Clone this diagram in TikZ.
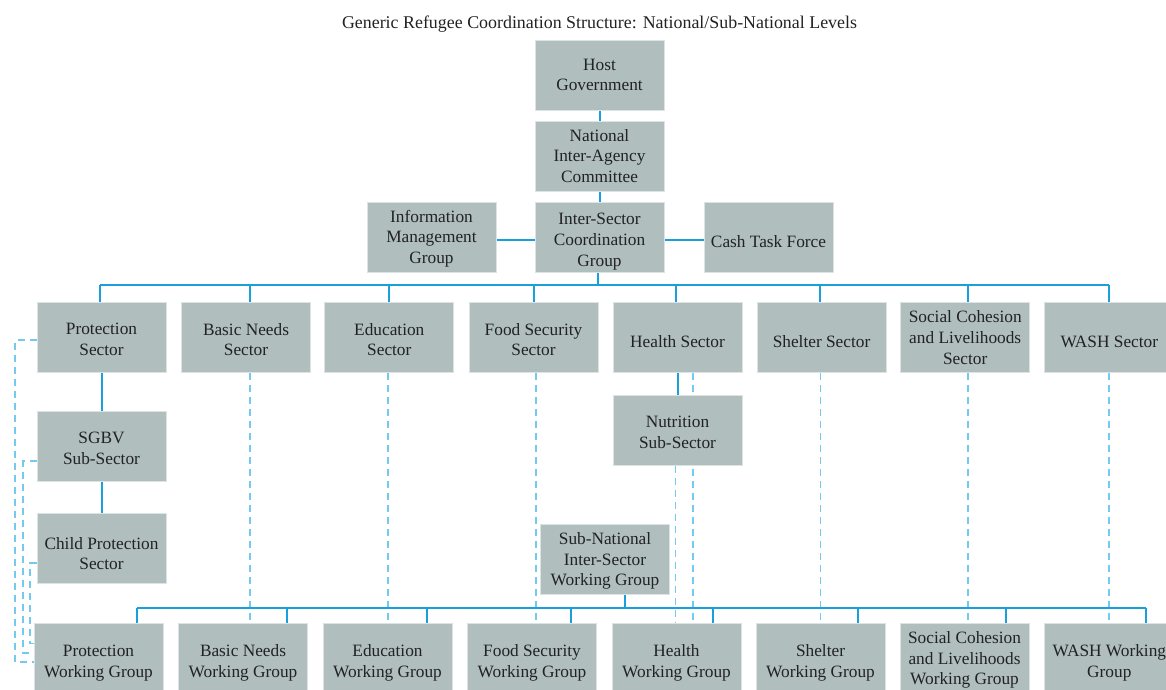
\documentclass[tikz,border=0pt]{standalone}
\usepackage{fontspec}
\setmainfont{Liberation Serif}
\usetikzlibrary{backgrounds}
\definecolor{boxfill}{HTML}{B0BEBE}
\definecolor{boxedge}{HTML}{DCE3E3}
\definecolor{solidblue}{HTML}{1A9FDE}
\definecolor{dashblue}{HTML}{74C9EE}
\definecolor{txt}{HTML}{222222}
% box node (empty) plus its text node, the text shifted down by #4 pt
\newcommand{\bnode}[5][box]{%
  \node[#1] (#2) at (#3) {};
  \node[btxt] (#2t) at ([yshift=-#4pt]#2.center) {#5};}
\begin{document}
\begin{tikzpicture}[x=1pt,y=-1pt,
  box/.style={fill=boxfill,draw=boxedge,line width=1pt,minimum width=129pt,minimum height=70pt,inner sep=0pt},
  wg/.style={box,minimum height=72pt},
  btxt/.style={inner sep=0pt,align=center,text=txt,font=\fontsize{17.3pt}{20.7pt}\selectfont},
  link/.style={draw=solidblue,line width=2pt},
  dlink/.style={draw=dashblue,line width=1.6pt,dash pattern=on 7pt off 5pt}]
\useasboundingbox (0,0) rectangle (1166,689);
\clip (0,0) rectangle (1166,689);

\node[anchor=base,text=txt,font=\fontsize{17.9pt}{21pt}\selectfont] (title) at (599.5,28.3)
  {Generic Refugee Coordination Structure: National/Sub-National Levels};

\bnode{host}{599.5,75}{0}{Host\\Government}
\bnode{niac}{599.5,156}{0}{National\\Inter-Agency\\Committee}
\bnode{iscg}{599.5,237}{4.5}{Inter-Sector\\Coordination\\Group}
\bnode{img}{431.5,237}{1.5}{Information\\Management\\Group}
\bnode{ctf}{768.5,237}{4.3}{Cash Task Force}

\bnode{s1}{101.5,337}{2.5}{Protection\\Sector}
\bnode{s2}{246,337}{2.5}{Basic Needs\\Sector}
\bnode{s3}{389.3,337}{2.5}{Education\\Sector}
\bnode{s4}{533.5,337}{2.5}{Food Security\\Sector}
\bnode{s5}{677.5,337}{4.5}{Health Sector}
\bnode{s6}{821.5,337}{4.5}{Shelter Sector}
\bnode{s7}{965.2,337}{0.5}{Social Cohesion\\and Livelihoods\\Sector}
\bnode{s8}{1109.3,337}{4.5}{WASH Sector}

\bnode{sgbv}{101.5,446}{2}{SGBV\\Sub-Sector}
\bnode{cps}{101.5,548}{5.5}{Child Protection\\Sector}
\bnode{nut}{677.5,430.5}{1.7}{Nutrition\\Sub-Sector}
\bnode{snis}{605,559.5}{1.5}{Sub-National\\Inter-Sector\\Working Group}

\bnode[wg]{w1}{98.5,659}{4}{Protection\\Working Group}
\bnode[wg]{w2}{243,659}{4}{Basic Needs\\Working Group}
\bnode[wg]{w3}{387.5,659}{4}{Education\\Working Group}
\bnode[wg]{w4}{532,659}{4}{Food Security\\Working Group}
\bnode[wg]{w5}{676.5,659}{4}{Health\\Working Group}
\bnode[wg]{w6}{820.5,659}{4}{Shelter\\Working Group}
\bnode[wg]{w7}{964.5,659}{1}{Social Cohesion\\and Livelihoods\\Working Group}
\bnode[wg]{w8}{1109.3,659}{4}{WASH Working\\Group}

\coordinate (tbL) at (100,285.3);
\coordinate (tbR) at (1108.7,285.3);
\coordinate (bbL) at (137.2,608.3);
\coordinate (bbR) at (1146,608.3);
\coordinate (l1) at (15,662);
\coordinate (l2) at (23,653);
\coordinate (l3) at (30,643.3);

\begin{scope}[on background layer]
% top hierarchy
\draw[link] (host) -- (niac);
\draw[link] (niac) -- (iscg);
\draw[link] ([yshift=-3pt]img.east) -- ([yshift=-3pt]iscg.west);
\draw[link] ([yshift=-3pt]iscg.east) -- ([yshift=-3pt]ctf.west);
\draw[link] ([xshift=-2pt]iscg.south) -- ([xshift=-2pt]iscg.south |- tbL);
\draw[link] (tbL) -- (tbR);
\foreach \n/\dx in {s1/-1.5,s2/4,s3/0,s4/0,s5/-2,s6/-1.3,s7/3,s8/-0.6}
  \draw[link] ([xshift=\dx pt]\n.north) -- ([xshift=\dx pt]\n.north |- tbL);
% protection chain and nutrition
\draw[link] (s1) -- (sgbv);
\draw[link] (sgbv) -- (cps);
\draw[link] (s5) -- (nut);
% dashed sector -> working group
\foreach \s/\w/\dx in {s2/w2/4,s3/w3/-1.3,s4/w4/2.2,s6/w6/-0.9,s7/w7/2.8,s8/w8/-0.3}
  \draw[dlink] ([xshift=\dx pt]\s.south) -- ([xshift=\dx pt]\s.south |- \w.north);
\draw[dlink] ([xshift=15.5pt]s5.south) -- ([xshift=15.5pt]s5.south |- w5.north);
\draw[dlink] ([xshift=-2pt]nut.south) -- ([xshift=-2pt]nut.south |- w5.north);
\draw[dlink] ([yshift=-3pt]s1.west) -| (l1) -- (l1 -| w1.west);
\draw[dlink] ([yshift=-15pt]sgbv.west) -| (l2) -- (l2 -| w1.west);
\draw[dlink] ([yshift=-15pt]cps.west) -| (l3) -- (l3 -| w1.west);
% bottom bus
\draw[link] ([xshift=19.5pt]snis.south) -- ([xshift=19.5pt]snis.south |- bbL);
\draw[link] (bbL) -- (bbR);
\foreach \n/\dx in {w1/38.7,w2/44.3,w3/39.3,w4/39,w5/36.1,w6/37.3,w7/41.3,w8/36.7}
  \draw[link] ([xshift=\dx pt]\n.north) -- ([xshift=\dx pt]\n.north |- bbL);
\end{scope}
\end{tikzpicture}
\end{document}
